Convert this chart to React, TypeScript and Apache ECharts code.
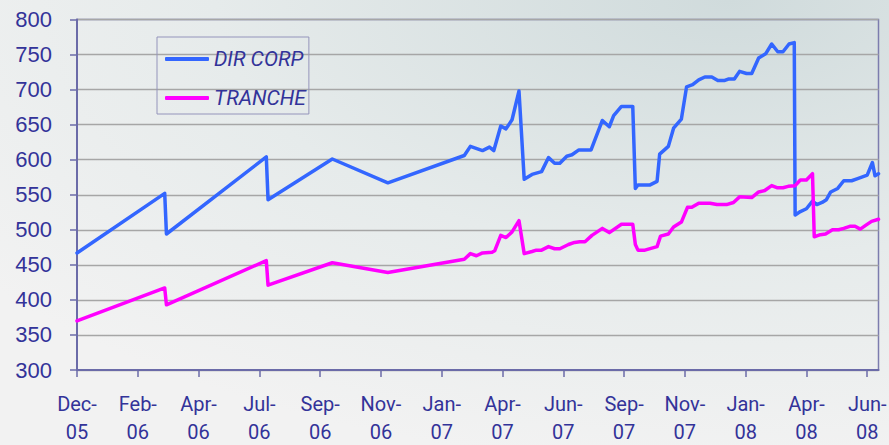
import React, { useEffect, useRef } from "react";
import * as echarts from "echarts";

// x = days since the Dec-05 tick (ticks every 70 days)
const TICK_STEP = 70;
const X_MAX = 923;
const tickLabels = [
  "Dec-\n05", "Feb-\n06", "Apr-\n06", "Jul-\n06", "Sep-\n06", "Nov-\n06", "Jan-\n07",
  "Apr-\n07", "Jun-\n07", "Sep-\n07", "Nov-\n07", "Jan-\n08", "Apr-\n08", "Jun-\n08",
];
const tickValues = tickLabels.map((_, i) => i * TICK_STEP);

const dirDays = [
  0, 101, 103, 218, 220, 294, 358, 446, 453, 467, 475, 480, 488, 494, 501, 509, 515, 524, 535,
  543, 550, 556, 564, 570, 578, 592, 605, 613, 618, 627, 640, 643, 646, 660, 668, 671, 681, 687,
  696, 702, 709, 716, 723, 731, 738, 746, 750, 757, 763, 771, 777, 785, 793, 800, 807, 813, 820,
  826, 827, 833, 840, 847, 852, 858, 863, 868, 876, 883, 892, 899, 910, 916, 919, 923,
];
const dirValues = [
  467, 552, 494, 604, 543, 601, 567, 606, 619, 613, 618, 613, 648, 644, 657, 698, 572, 579, 583,
  603, 595, 595, 605, 607, 614, 614, 656, 647, 663, 676, 676, 559, 564, 564, 569, 608, 619, 645,
  658, 704, 707, 714, 718, 718, 713, 713, 715, 715, 726, 723, 723, 745, 751, 765, 754, 754, 765,
  767, 521, 526, 530, 541, 536, 539, 543, 554, 559, 570, 570, 573, 578, 596, 577, 580,
];

const trDays = [
  0, 101, 103, 218, 220, 294, 358, 446, 453, 460, 467, 478, 481, 488, 494, 501, 509, 515, 524,
  529, 535, 543, 550, 556, 566, 573, 579, 585, 593, 605, 613, 627, 640, 643, 646, 654, 668, 672,
  681, 687, 696, 703, 708, 716, 729, 737, 748, 756, 763, 777, 785, 792, 800, 806, 813, 819, 827,
  833, 840, 847, 849, 856, 862, 870, 877, 883, 890, 896, 902, 909, 915, 923,
];
const trValues = [
  370, 417, 393, 456, 421, 453, 439, 458, 466, 463, 467, 468, 470, 492, 489, 497, 513, 466, 469,
  471, 471, 476, 473, 473, 479, 482, 483, 483, 492, 502, 496, 508, 508, 479, 471, 471, 476, 491,
  494, 504, 511, 532, 532, 538, 538, 536, 536, 539, 547, 546, 554, 556, 563, 560, 560, 562, 563,
  571, 571, 580, 490, 493, 494, 500, 500, 502, 505, 505, 501, 507, 512, 515,
];

const seriesNames = ["DIR CORP", "TRANCHE"];
const seriesColors = ["#3366ff", "#ff00ff"];

const NARROW_FONT = "Roboto, 'Liberation Sans', Arial, sans-serif";
const TEXT_COLOR = "#333399";
const AXIS_COLOR = "#6b6ba8";

export default function App() {
  const ref = useRef<HTMLDivElement>(null);
  useEffect(() => {
    if (!ref.current) return;
    const chart = echarts.init(ref.current, null, { renderer: "svg" });
    const zip = (xs: number[], ys: number[]) => xs.map((x, i) => [x, ys[i]]);
    chart.setOption({
      animation: false,
      backgroundColor: {
        type: "radial",
        x: 0.82,
        y: 0,
        r: 1.05,
        colorStops: [
          { offset: 0, color: "#d0dbdc" },
          { offset: 0.55, color: "#e6ebeb" },
          { offset: 1, color: "#f2f2f2" },
        ],
      },
      grid: {
        left: 77,
        right: 10.5,
        top: 19.5,
        bottom: 75,
        outerBoundsMode: "none",
        containLabel: false,
        show: true,
        borderColor: "#7c7cae",
        borderWidth: 1.5,
        backgroundColor: "transparent",
      },
      legend: {
        orient: "vertical",
        left: 157,
        top: 37,
        padding: [10, 3, 4, 8],
        itemGap: 15,
        itemWidth: 44,
        itemHeight: 4,
        itemTextGap: 4,
        icon: "roundRect",
        borderColor: "#9494bb",
        borderWidth: 1,
        data: seriesNames,
        textStyle: {
          fontFamily: NARROW_FONT,
          fontSize: 21,
          fontStyle: "italic",
          color: TEXT_COLOR,
          lineHeight: 24,
        },
      },
      xAxis: {
        type: "value",
        min: 0,
        max: X_MAX,
        splitLine: { show: false },
        axisLine: { lineStyle: { color: AXIS_COLOR, width: 2 } },
        axisTick: {
          customValues: tickValues,
          length: 7,
          lineStyle: { color: AXIS_COLOR, width: 1.5 },
        },
        axisLabel: {
          customValues: tickValues,
          formatter: (v: number) => tickLabels[Math.round(v / TICK_STEP)] ?? "",
          margin: 20,
          fontFamily: NARROW_FONT,
          fontSize: 20,
          lineHeight: 28,
          color: TEXT_COLOR,
        },
      },
      yAxis: {
        type: "value",
        min: 300,
        max: 800,
        interval: 50,
        splitLine: { lineStyle: { color: "#a6a6a6", width: 1.3 } },
        axisLine: { show: true, lineStyle: { color: AXIS_COLOR, width: 2 } },
        axisTick: { show: true, length: 7, lineStyle: { color: AXIS_COLOR, width: 1.5 } },
        axisLabel: {
          margin: 25,
          fontFamily: "'Liberation Sans', Arial, sans-serif",
          fontSize: 22,
          color: TEXT_COLOR,
        },
      },
      series: [
        {
          name: seriesNames[0],
          type: "line",
          data: zip(dirDays, dirValues),
          showSymbol: false,
          symbol: "none",
          lineStyle: { color: seriesColors[0], width: 3.5, join: "round", cap: "round" },
          itemStyle: { color: seriesColors[0] },
        },
        {
          name: seriesNames[1],
          type: "line",
          data: zip(trDays, trValues),
          showSymbol: false,
          symbol: "none",
          lineStyle: { color: seriesColors[1], width: 3.5, join: "round", cap: "round" },
          itemStyle: { color: seriesColors[1] },
        },
      ],
    });
    return () => chart.dispose();
  }, []);
  return (
    <div
      ref={ref}
      style={{ position: "absolute", left: 0, top: 0, width: 889, height: 445 }}
    />
  );
}
